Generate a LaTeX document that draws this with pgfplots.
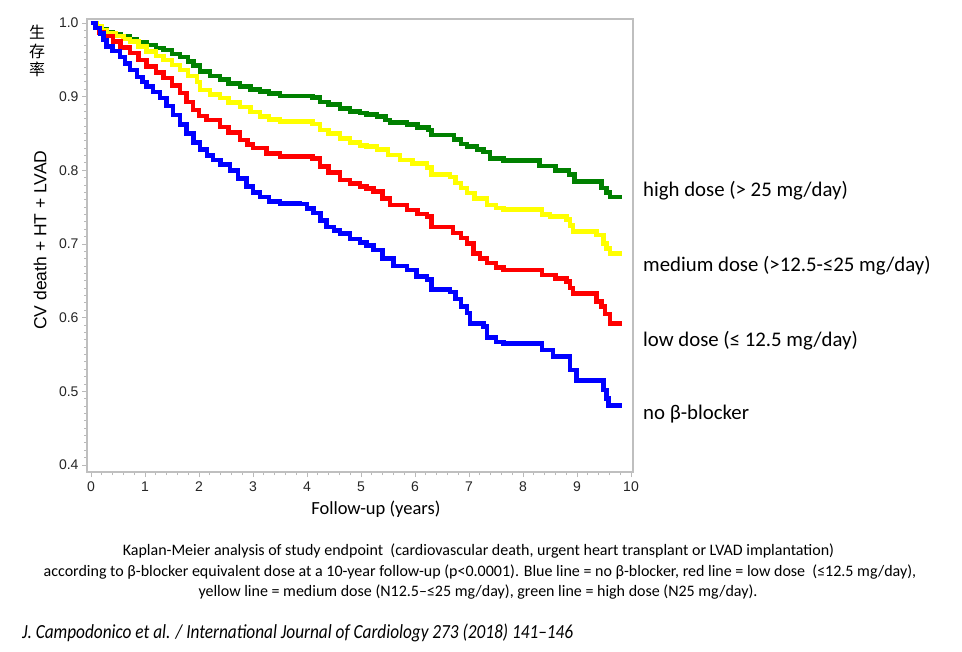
\documentclass[border=0pt]{standalone}
\usepackage{fontspec}
\setmainfont{Liberation Sans}
\newfontfamily\calfont{Carlito}
\newfontfamily\cjk{Noto Sans CJK SC}
\usepackage{pgfplots}
\pgfplotsset{compat=1.18}

\pgfplotstableread{
t S
0 1.000
0.10 0.995
0.20 0.992
0.30 0.988
0.41 0.985
0.55 0.982
0.72 0.978
0.85 0.974
1.03 0.970
1.20 0.966
1.34 0.963
1.50 0.958
1.65 0.954
1.80 0.948
1.90 0.942
2.02 0.934
2.20 0.928
2.39 0.923
2.55 0.918
2.76 0.914
2.95 0.910
3.13 0.907
3.30 0.904
3.50 0.901
4.10 0.899
4.24 0.893
4.40 0.889
4.61 0.884
4.80 0.880
4.98 0.878
5.10 0.876
5.30 0.873
5.45 0.868
5.54 0.865
5.85 0.862
6.05 0.858
6.25 0.855
6.31 0.848
6.72 0.842
6.85 0.836
6.96 0.832
7.15 0.828
7.27 0.825
7.39 0.816
7.64 0.813
8.31 0.806
8.60 0.800
8.85 0.794
8.95 0.785
9.45 0.776
9.55 0.770
9.61 0.764
9.83 0.764
}\greentab

\pgfplotstableread{
t S
0 1.000
0.10 0.995
0.20 0.990
0.29 0.986
0.45 0.982
0.60 0.978
0.72 0.975
0.88 0.968
1.03 0.961
1.20 0.955
1.34 0.950
1.50 0.943
1.65 0.936
1.80 0.928
1.96 0.920
2.02 0.909
2.20 0.903
2.39 0.898
2.55 0.892
2.76 0.886
2.95 0.879
3.13 0.873
3.30 0.869
3.50 0.866
4.10 0.863
4.24 0.855
4.40 0.850
4.61 0.843
4.80 0.838
4.98 0.834
5.10 0.832
5.30 0.828
5.50 0.821
5.72 0.814
5.95 0.809
6.22 0.804
6.31 0.794
6.65 0.791
6.75 0.783
6.85 0.776
6.96 0.769
7.10 0.762
7.33 0.753
7.50 0.749
7.64 0.747
8.35 0.740
8.50 0.737
8.81 0.733
8.87 0.725
8.93 0.717
9.36 0.712
9.49 0.701
9.55 0.694
9.61 0.687
9.83 0.687
}\yellowtab

\pgfplotstableread{
t S
0 1.000
0.08 0.993
0.15 0.987
0.23 0.982
0.41 0.975
0.55 0.967
0.72 0.959
0.88 0.950
1.03 0.941
1.20 0.933
1.34 0.925
1.50 0.915
1.65 0.905
1.77 0.893
1.89 0.882
2.00 0.874
2.14 0.868
2.39 0.859
2.55 0.851
2.76 0.841
2.90 0.835
3.00 0.830
3.25 0.823
3.50 0.819
4.10 0.816
4.24 0.805
4.40 0.797
4.61 0.787
4.80 0.782
4.98 0.778
5.10 0.775
5.23 0.771
5.40 0.762
5.54 0.753
5.85 0.746
6.05 0.741
6.22 0.737
6.31 0.723
6.70 0.715
6.85 0.708
6.96 0.701
7.08 0.687
7.20 0.680
7.33 0.674
7.50 0.668
7.64 0.665
8.35 0.658
8.60 0.653
8.81 0.649
8.87 0.640
8.93 0.633
9.36 0.622
9.45 0.615
9.52 0.605
9.61 0.592
9.83 0.592
}\redtab

\pgfplotstableread{
t S
0 1.000
0.08 0.993
0.17 0.986
0.23 0.977
0.29 0.968
0.40 0.962
0.54 0.954
0.63 0.945
0.72 0.936
0.85 0.927
0.95 0.920
1.03 0.914
1.15 0.906
1.28 0.898
1.40 0.887
1.52 0.875
1.65 0.862
1.77 0.850
1.90 0.838
2.02 0.828
2.15 0.820
2.26 0.814
2.40 0.808
2.57 0.800
2.72 0.789
2.88 0.778
3.00 0.770
3.13 0.764
3.30 0.758
3.50 0.755
3.87 0.754
4.00 0.748
4.12 0.742
4.25 0.732
4.36 0.723
4.50 0.718
4.61 0.714
4.80 0.707
4.98 0.702
5.10 0.698
5.23 0.692
5.40 0.680
5.60 0.670
5.85 0.665
6.03 0.656
6.22 0.652
6.31 0.638
6.65 0.635
6.75 0.625
6.85 0.615
6.96 0.606
7.02 0.592
7.27 0.588
7.33 0.573
7.50 0.567
7.64 0.565
8.35 0.556
8.56 0.547
8.87 0.529
8.99 0.515
9.49 0.502
9.55 0.490
9.58 0.481
9.83 0.481
}\bluetab

\definecolor{kmgreen}{RGB}{0,128,0}
\definecolor{kmyellow}{RGB}{255,255,0}
\definecolor{kmred}{RGB}{255,0,0}
\definecolor{kmblue}{RGB}{0,0,255}

\begin{document}
\begin{tikzpicture}[x=1pt,y=1pt]
\path[use as bounding box, fill=white] (0,0) rectangle (962,-652);
\begin{axis}[
  at={(87pt,-472pt)}, anchor=south west,
  scale only axis, width=546pt, height=453pt,
  xmin=-0.074, xmax=10.037, ymin=0.3905, ymax=1.0054,
  xtick={0,1,...,10}, ytick={0.4,0.5,...,1.0},
  minor x tick num=4, minor y tick num=9,
  xtick pos=bottom, ytick pos=left,
  tick align=outside,
  major tick length=5pt, minor tick length=3pt,
  every tick/.style={draw=gray!55, line width=0.9pt},
  axis line style={draw=gray!50, line width=1.6pt},
  /pgf/number format/assume math mode=true,
  yticklabel style={/pgf/number format/.cd, fixed, fixed zerofill, precision=1},
  tick label style={font=\fontsize{14}{16}\selectfont, text=black!85},
  xticklabel style={yshift=-1pt},
  xlabel={\calfont\fontsize{18.5}{22}\selectfont Follow-up (years)},
  x label style={at={(axis description cs:0.529,-0.082)}, anchor=center},
  ylabel={\fontsize{17.5}{20}\selectfont CV death + HT + LVAD},
  y label style={at={(axis description cs:-0.086,0.512)}, anchor=center, rotate=0},
  line join=miter,
]
\addplot[kmgreen, line width=4.5pt, const plot] table[x=t,y=S] {\greentab};
\addplot[kmyellow, line width=4.5pt, const plot] table[x=t,y=S] {\yellowtab};
\addplot[kmred, line width=4.5pt, const plot] table[x=t,y=S] {\redtab};
\addplot[kmblue, line width=4.5pt, const plot] table[x=t,y=S] {\bluetab};
\end{axis}

% Chinese label
\node[anchor=center, inner sep=0] at (37,-32.5) {\cjk\fontsize{16}{16}\selectfont 生};
\node[anchor=center, inner sep=0] at (37,-51) {\cjk\fontsize{16}{16}\selectfont 存};
\node[anchor=center, inner sep=0] at (37,-69.5) {\cjk\fontsize{16}{16}\selectfont 率};

% curve labels
\node[anchor=west, inner sep=0] at (643,-191) {\calfont\fontsize{20.8}{24}\selectfont high dose (> 25 mg/day)};
\node[anchor=west, inner sep=0] at (643,-266) {\calfont\fontsize{20.8}{24}\selectfont medium dose (>12.5-≤25 mg/day)};
\node[anchor=west, inner sep=0] at (643,-341) {\calfont\fontsize{20.8}{24}\selectfont low dose (≤ 12.5 mg/day)};
\node[anchor=west, inner sep=0] at (643,-414) {\calfont\fontsize{20.8}{24}\selectfont no β-blocker};

% caption
\node[anchor=center, inner sep=0] at (478.5,-551) {\calfont\fontsize{16}{19}\selectfont Kaplan-Meier analysis of study endpoint\ \ (cardiovascular death, urgent heart transplant or LVAD implantation)};
\node[anchor=center, inner sep=0] at (480,-572) {\calfont\fontsize{16}{19}\selectfont according to β-blocker equivalent dose at a 10-year follow-up (p<0.0001). Blue line = no β-blocker, red line = low dose\ \ (≤12.5 mg/day),};
\node[anchor=center, inner sep=0] at (478,-592) {\calfont\fontsize{16}{19}\selectfont yellow line = medium dose (N12.5–≤25 mg/day), green line = high dose (N25 mg/day).};

% citation
\node[anchor=west, inner sep=0] at (22,-633) {\resizebox{551pt}{\height}{\calfont\itshape\fontsize{20}{23}\selectfont J. Campodonico et al. / International Journal of Cardiology 273 (2018) 141–146}};
\end{tikzpicture}
\end{document}
